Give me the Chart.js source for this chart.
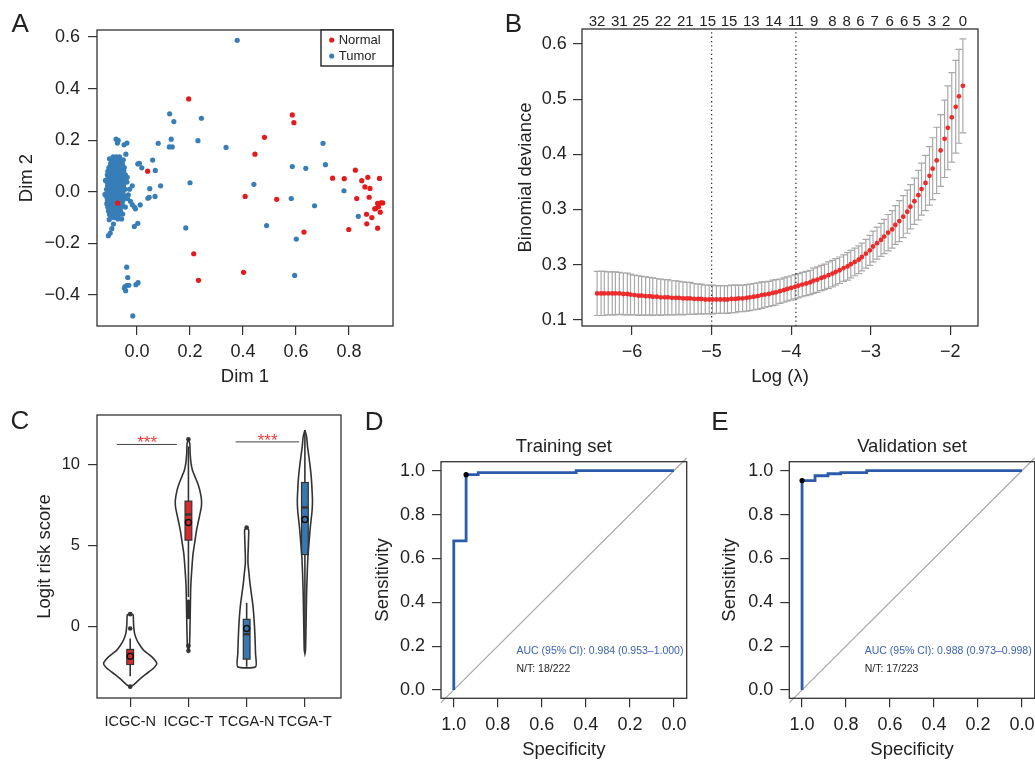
<!DOCTYPE html>
<html>
<head>
<meta charset="utf-8">
<script src="https://cdn.jsdelivr.net/npm/chart.js@4.4.1/dist/chart.umd.min.js"></script>
<style>
  body { margin: 0; background: #fff; }
  #fig { position: relative; width: 1035px; height: 762px; overflow: hidden;
         font-family: "Liberation Sans", Arial, Helvetica, sans-serif; color: #222; }
  #fig canvas { position: absolute; }
  .tag { position: absolute; font-size: 26px; line-height: 26px; color: #222; }
</style>
</head>
<body>
<div id="fig">
  <canvas id="chartA" width="400" height="392" style="left:0px;top:0px;width:400px;height:392px"></canvas>
  <canvas id="chartB" width="535" height="392" style="left:500px;top:0px;width:535px;height:392px"></canvas>
  <canvas id="chartC" width="360" height="367" style="left:0px;top:395px;width:360px;height:367px"></canvas>
  <canvas id="chartD" width="345" height="367" style="left:355px;top:395px;width:345px;height:367px"></canvas>
  <canvas id="chartE" width="345" height="367" style="left:703px;top:395px;width:345px;height:367px"></canvas>
  <div class="tag" style="left:11.5px;top:9.9px">A</div>
  <div class="tag" style="left:504.7px;top:9.9px">B</div>
  <div class="tag" style="left:10.5px;top:406.6px">C</div>
  <div class="tag" style="left:364.7px;top:408.3px">D</div>
  <div class="tag" style="left:711.3px;top:408.3px">E</div>
</div>
<script>
// ---------- Panel A: MDS plot (Dim 1, Dim 2) ----------
const normalPoints = [
  [0.195, 0.360], [0.586, 0.298], [0.592, 0.268], [0.481, 0.211], [0.445, 0.146],
  [0.040, 0.080], [-0.073, -0.044], [0.408, -0.018], [0.527, -0.029], [0.630, -0.156],
  [0.214, -0.240], [0.232, -0.343], [0.402, -0.312], [0.738, 0.053], [0.782, 0.051],
  [0.824, 0.084], [0.848, 0.043], [0.871, 0.056], [0.860, 0.019], [0.879, 0.013],
  [0.915, 0.052], [0.829, -0.026], [0.876, -0.021], [0.908, -0.045], [0.920, -0.043],
  [0.927, -0.043], [0.911, -0.058], [0.901, -0.065], [0.918, -0.079], [0.897, -0.066],
  [0.866, -0.087], [0.886, -0.100], [0.867, -0.124], [0.799, -0.146], [0.908, -0.141]
];
const tumorPoints = [
  [0.378, 0.587], [0.123, 0.302], [0.243, 0.285], [0.139, 0.272], [0.080, 0.188],
  [0.129, 0.204], [0.122, 0.174], [0.133, 0.174], [0.230, 0.198], [0.336, 0.172],
  [0.702, 0.188], [0.711, 0.105], [0.586, 0.098], [0.637, 0.091], [0.059, 0.123],
  [0.069, 0.083], [0.009, 0.110], [0.003, 0.108], [0.018, 0.093], [0.089, 0.023],
  [0.048, 0.012], [0.046, -0.021], [0.041, -0.025], [0.068, -0.018], [0.200, 0.035],
  [0.441, 0.029], [0.781, 0.004], [0.582, -0.026], [0.670, -0.054], [0.835, -0.095],
  [0.489, -0.131], [0.601, -0.183], [0.595, -0.324], [0.184, -0.140], [0.012, -0.051],
  [0.003, -0.122], [-0.010, -0.134],
  [-0.018, -0.050], [-0.010, -0.059], [-0.006, -0.066], [-0.044, -0.059], [-0.025, -0.037],
  [-0.038, 0.038], [-0.018, 0.023], [-0.028, 0.010], [-0.033, -0.012], [-0.054, -0.086],
  [-0.072, -0.105], [-0.058, -0.105], [-0.105, -0.108], [-0.089, -0.125], [-0.095, -0.143],
  [-0.101, -0.160], [-0.108, -0.170], [-0.079, 0.204], [-0.071, 0.199], [-0.074, 0.189],
  [-0.049, 0.182], [-0.038, 0.189], [-0.042, 0.146],
  [-0.039, -0.292], [-0.035, -0.332], [-0.045, -0.367], [-0.039, -0.363], [-0.031, -0.362],
  [-0.048, -0.373], [-0.043, -0.383], [-0.004, -0.360], [0.004, -0.352], [-0.016, -0.481],
  // main cluster
  [-0.090, 0.135], [-0.078, 0.135], [-0.066, 0.135], [-0.104, 0.128], [-0.052, 0.124],
  [-0.097, 0.122], [-0.085, 0.122], [-0.073, 0.122], [-0.061, 0.122],
  [-0.100, 0.108], [-0.088, 0.108], [-0.076, 0.108], [-0.064, 0.108], [-0.055, 0.108],
  [-0.106, 0.094], [-0.094, 0.094], [-0.082, 0.094], [-0.070, 0.094], [-0.058, 0.094], [-0.048, 0.094],
  [-0.110, 0.080], [-0.098, 0.080], [-0.086, 0.080], [-0.074, 0.080], [-0.062, 0.080], [-0.050, 0.080],
  [-0.112, 0.066], [-0.100, 0.066], [-0.088, 0.066], [-0.076, 0.066], [-0.064, 0.066], [-0.052, 0.066], [-0.044, 0.066],
  [-0.110, 0.052], [-0.098, 0.052], [-0.086, 0.052], [-0.074, 0.052], [-0.062, 0.052], [-0.050, 0.052], [-0.037, 0.056],
  [-0.113, 0.038], [-0.101, 0.038], [-0.089, 0.038], [-0.077, 0.038], [-0.065, 0.038], [-0.053, 0.038], [-0.043, 0.038],
  [-0.111, 0.024], [-0.099, 0.024], [-0.087, 0.024], [-0.075, 0.024], [-0.063, 0.024], [-0.051, 0.024], [-0.119, 0.044],
  [-0.115, 0.010], [-0.103, 0.010], [-0.091, 0.010], [-0.079, 0.010], [-0.067, 0.010], [-0.055, 0.010], [-0.045, 0.010],
  [-0.113, -0.004], [-0.101, -0.004], [-0.089, -0.004], [-0.077, -0.004], [-0.065, -0.004], [-0.053, -0.004], [-0.121, -0.010],
  [-0.115, -0.018], [-0.103, -0.018], [-0.091, -0.018], [-0.079, -0.018], [-0.067, -0.018], [-0.055, -0.018], [-0.042, -0.018],
  [-0.112, -0.032], [-0.100, -0.032], [-0.088, -0.032], [-0.076, -0.032], [-0.064, -0.032], [-0.052, -0.032], [-0.036, -0.026],
  [-0.114, -0.046], [-0.102, -0.046], [-0.090, -0.046], [-0.078, -0.046], [-0.066, -0.046], [-0.056, -0.046],
  [-0.110, -0.060], [-0.098, -0.060], [-0.086, -0.060], [-0.074, -0.060], [-0.062, -0.060],
  [-0.108, -0.074], [-0.096, -0.074], [-0.084, -0.074], [-0.072, -0.074], [-0.062, -0.074],
  [-0.104, -0.088], [-0.092, -0.088], [-0.080, -0.088], [-0.068, -0.088],
  [-0.098, -0.100], [-0.086, -0.100]
];
const dimTicksX = [0, 0.2, 0.4, 0.6, 0.8];
const dimTicksY = [-0.4, -0.2, 0, 0.2, 0.4, 0.6];

// ---------- Panel B: cross-validation curve ----------
const logLambda = [
  -6.44, -6.39, -6.35, -6.30, -6.25, -6.21, -6.16, -6.11, -6.06, -6.02,
  -5.97, -5.92, -5.88, -5.83, -5.78, -5.74, -5.69, -5.64, -5.59, -5.55,
  -5.50, -5.45, -5.41, -5.36, -5.31, -5.27, -5.22, -5.17, -5.13, -5.08,
  -5.03, -4.99, -4.94, -4.89, -4.84, -4.80, -4.75, -4.70, -4.66, -4.61,
  -4.56, -4.52, -4.47, -4.42, -4.37, -4.33, -4.28, -4.23, -4.19, -4.14,
  -4.09, -4.05, -4.00, -3.95, -3.91, -3.86, -3.81, -3.76, -3.72, -3.67,
  -3.62, -3.58, -3.53, -3.48, -3.44, -3.39, -3.34, -3.29, -3.25, -3.20,
  -3.15, -3.11, -3.06, -3.01, -2.97, -2.92, -2.87, -2.83, -2.78, -2.73,
  -2.69, -2.64, -2.59, -2.54, -2.50, -2.45, -2.40, -2.36, -2.31, -2.26,
  -2.22, -2.17, -2.12, -2.07, -2.03, -1.98, -1.93, -1.89, -1.84
];
const cvMean = [
  0.148, 0.148, 0.148, 0.148, 0.148, 0.148, 0.148, 0.147, 0.147,
  0.146, 0.145, 0.144, 0.144, 0.143, 0.143,
  0.142, 0.142, 0.141, 0.141, 0.141, 0.140, 0.140,
  0.140, 0.139, 0.139, 0.139, 0.138, 0.138, 0.138,
  0.137, 0.137, 0.137, 0.137, 0.137, 0.137, 0.137,
  0.138, 0.138, 0.139, 0.139, 0.140, 0.141,
  0.142, 0.143, 0.145, 0.146, 0.147, 0.149,
  0.150, 0.152, 0.154, 0.156, 0.158, 0.160,
  0.162, 0.164, 0.166, 0.168, 0.171, 0.173,
  0.176, 0.178, 0.181, 0.184, 0.187, 0.190,
  0.194, 0.197, 0.201, 0.205, 0.209,
  0.214, 0.220, 0.226, 0.233,
  0.239, 0.245, 0.251, 0.258, 0.264, 0.272, 0.279, 0.287, 0.296, 0.305, 0.315, 0.326,
  0.337, 0.348, 0.361, 0.374, 0.389, 0.407, 0.428, 0.448, 0.467, 0.486, 0.505, 0.524
];
const cvSd = [
  0.040, 0.040, 0.040, 0.039, 0.039, 0.039, 0.038, 0.038, 0.038,
  0.037, 0.036, 0.036, 0.035, 0.035, 0.034,
  0.034, 0.033, 0.033, 0.032, 0.032, 0.031, 0.031,
  0.030, 0.030, 0.029, 0.029, 0.028, 0.027, 0.027,
  0.026, 0.026, 0.026, 0.025, 0.025, 0.025, 0.025,
  0.025, 0.025, 0.024, 0.024, 0.024, 0.024,
  0.024, 0.024, 0.024, 0.023, 0.023, 0.023,
  0.023, 0.022, 0.022, 0.022, 0.022, 0.022,
  0.022, 0.022, 0.022, 0.022, 0.023, 0.023,
  0.023, 0.023, 0.024, 0.024, 0.024, 0.024,
  0.024, 0.025, 0.025, 0.025, 0.025,
  0.025, 0.026, 0.027, 0.028,
  0.029, 0.030, 0.031, 0.033, 0.034, 0.035, 0.037, 0.038, 0.039, 0.040, 0.042, 0.045,
  0.047, 0.050, 0.053, 0.056, 0.060, 0.065, 0.070, 0.076, 0.081, 0.084, 0.085, 0.085
];
const nzeroPos = [-6.44, -6.16, -5.89, -5.61, -5.33, -5.05, -4.78, -4.50, -4.22, -3.94,
                  -3.71, -3.48, -3.30, -3.13, -2.95, -2.76, -2.58, -2.42, -2.23, -2.05, -1.84];
const nzeroLabels = ['32', '31', '25', '22', '21', '15', '15', '13', '14', '11',
                     '9', '8', '8', '6', '7', '6', '6', '5', '3', '2', '0'];
const lambdaMinLog = -5.0;
const lambda1seLog = -3.94;
const lambdaTicks = [-6, -5, -4, -3, -2];
const devTicks = [0.1, 0.2, 0.3, 0.4, 0.5, 0.6];
const devTickLabels = ['0.1', '0.3', '0.3', '0.4', '0.5', '0.6'];
const devRange = [0.089, 0.627];

// ---------- Panel C: violin + box plots ----------
const groupNames = ['ICGC-N', 'ICGC-T', 'TCGA-N', 'TCGA-T'];
const icgcN_y = [0.78, 0.70, 0.40, 0.0, -0.43, -0.86, -1.20, -1.48, -1.90, -2.30, -2.60, -3.00, -3.44, -3.65, -3.76];
const icgcN_w = [0, 0.05, 0.055, 0.06, 0.074, 0.114, 0.17, 0.229, 0.372, 0.457, 0.40, 0.257, 0.114, 0.05, 0];
const icgcT_y = [11.54, 11.28, 10.66, 10.04, 9.63, 9.22, 8.81, 8.40, 7.78, 7.37, 6.96, 6.54, 5.93, 5.31, 4.49, 3.46, 2.43, 1.40, 0.37, -0.66, -1.28, -1.52];
const icgcT_w = [0, 0.023, 0.029, 0.046, 0.069, 0.114, 0.16, 0.195, 0.225, 0.222, 0.2, 0.175, 0.14, 0.114, 0.08, 0.057, 0.04, 0.034, 0.029, 0.023, 0.017, 0];
const tcgaN_y = [6.09, 5.95, 5.6, 5.0, 4.4, 3.87, 3.26, 2.64, 2.02, 1.40, 0.78, -0.04, -0.86, -1.69, -2.51];
const tcgaN_w = [0, 0.034, 0.034, 0.029, 0.023, 0.023, 0.04, 0.057, 0.08, 0.103, 0.12, 0.135, 0.145, 0.152, 0.155];
const tcgaT_y = [12.1, 11.7, 11.07, 10.45, 9.83, 9.22, 8.60, 7.78, 7.16, 6.54, 5.93, 5.10, 4.28, 3.26, 2.02, 0.78, -0.45, -1.48, -1.69];
const tcgaT_w = [0, 0.029, 0.046, 0.069, 0.091, 0.109, 0.12, 0.13, 0.124, 0.106, 0.088, 0.07, 0.052, 0.04, 0.029, 0.023, 0.017, 0.011, 0];
const boxQ1 = [-2.37, 5.31, -2.04, 4.42];
const boxMedian = [-1.90, 6.90, -0.50, 7.33];
const boxQ3 = [-1.44, 7.72, 0.42, 8.87];
const whiskerLow = [-3.09, 1.80, -2.51, -1.69];
const whiskerHigh = [-0.76, 11.10, 1.44, 12.10];
const groupMean = [-1.86, 6.40, -0.14, 6.58];
const outliers = [[0.74, -0.15, -3.74], [11.54, 1.50, 1.30, 1.09, 0.88, 0.68, 0.57, -1.21, -1.52], [6.09], []];
const sigFrom = [0.77, 2.81];
const sigTo = [1.80, 3.90];
const sigY = [11.22, 11.38];
const starX = [1.29, 3.36];
const starY = [11.6, 11.73];
const scoreTicks = [0, 5, 10];

// ---------- Panels D, E: ROC curves ----------
const trainSpec = [1, 1, 0.944, 0.944, 0.889, 0.889, 0.444, 0.444, 0];
const trainSens = [0, 0.68, 0.68, 0.982, 0.982, 0.991, 0.991, 1, 1];
const trainCut = [0.944, 0.982];
const validSpec = [1, 1, 0.941, 0.941, 0.882, 0.882, 0.824, 0.824, 0.706, 0.706, 0];
const validSens = [0, 0.955, 0.955, 0.977, 0.977, 0.986, 0.986, 0.991, 0.991, 1, 1];
const validCut = [1.0, 0.955];
const chanceSpec = [1.058, -0.058];
const chanceSens = [-0.058, 1.058];
const rocTicks = [1, 0.8, 0.6, 0.4, 0.2, 0];

const FONT = '"Liberation Sans", Arial, Helvetica, sans-serif';
Chart.defaults.font.family = FONT;
Chart.defaults.color = '#222';

const fmt1 = v => (v < 0 ? '\u2212' : '') + Math.abs(v).toFixed(1);
const fmt0 = v => (v < 0 ? '\u2212' : '') + Math.abs(v).toFixed(0);

// linear axis with fixed ticks, R-like outside tick marks and fixed box size
function linAxis(o) {
  return {
    type: 'linear',
    position: o.position,
    min: o.min,
    max: o.max,
    reverse: !!o.reverse,
    grid: { drawOnChartArea: false, drawTicks: true, tickLength: 9, color: '#333', lineWidth: 1.2 },
    border: { display: false },
    ticks: {
      autoSkip: false, maxRotation: 0, minRotation: 0,
      padding: o.pad, color: '#222',
      font: { size: o.fontSize || 18, lineHeight: 1.2 },
      callback: o.format
    },
    title: { display: !!o.title, text: o.title || '', color: '#222', font: { size: 18.5, lineHeight: 1.2 }, padding: 0 },
    afterBuildTicks: s => { s.ticks = o.ticks.map(v => ({ value: v })); },
    afterFit: s => { if (s.isHorizontal()) s.height = o.size; else s.width = o.size; }
  };
}

// box round the plot region
const framePlugin = {
  id: 'frame',
  afterDraw(chart) {
    const a = chart.chartArea, ctx = chart.ctx;
    ctx.save();
    ctx.strokeStyle = '#333';
    ctx.lineWidth = 1.3;
    ctx.strokeRect(a.left, a.top, a.right - a.left, a.bottom - a.top);
    ctx.restore();
  }
};
Chart.register(framePlugin);

// text placed at data coordinates
const textMarks = {
  id: 'textMarks',
  afterDatasetsDraw(chart, args, opts) {
    const ctx = chart.ctx, x = chart.scales.x, y = chart.scales.y;
    ctx.save();
    (opts.items || []).forEach(t => {
      ctx.font = t.font;
      ctx.fillStyle = t.color;
      ctx.textAlign = t.align || 'left';
      ctx.textBaseline = t.baseline || 'middle';
      ctx.fillText(t.text, x.getPixelForValue(t.x), y.getPixelForValue(t.y) + (t.dy || 0));
    });
    ctx.restore();
  }
};

const toXY = pts => pts.map(p => ({ x: p[0], y: p[1] }));
const common = { responsive: false, animation: false, devicePixelRatio: 1 };

// ---------- A ----------
const legendA = {
  id: 'legendA',
  afterDraw(chart) {
    const a = chart.chartArea, ctx = chart.ctx;
    const w = 72, h = 36, x0 = a.right - w, y0 = a.top;
    ctx.save();
    ctx.fillStyle = '#fff';
    ctx.fillRect(x0, y0, w, h);
    ctx.strokeStyle = '#222';
    ctx.lineWidth = 1.4;
    ctx.strokeRect(x0, y0, w, h);
    ctx.font = '13px ' + FONT;
    ctx.textBaseline = 'middle';
    chart.data.datasets.forEach((ds, i) => {
      const yy = y0 + 10 + i * 16;
      ctx.fillStyle = ds.backgroundColor;
      ctx.beginPath();
      ctx.arc(x0 + 10.7, yy, 2.6, 0, Math.PI * 2);
      ctx.fill();
      ctx.fillStyle = '#222';
      ctx.fillText(ds.label, x0 + 17.7, yy + 0.5);
    });
    ctx.restore();
  }
};

new Chart(document.getElementById('chartA'), {
  type: 'scatter',
  data: {
    datasets: [
      { label: 'Normal', data: toXY(normalPoints), backgroundColor: '#E41A1C', pointRadius: 2.6, borderWidth: 0 },
      { label: 'Tumor', data: toXY(tumorPoints), backgroundColor: '#377EB8', pointRadius: 2.6, borderWidth: 0 }
    ]
  },
  options: Object.assign({}, common, {
    layout: { padding: { left: 15.9, top: 30, right: 7, bottom: 3.9 } },
    plugins: { legend: { display: false }, tooltip: { enabled: false } },
    scales: {
      x: linAxis({ position: 'bottom', min: -0.151, max: 0.966, ticks: dimTicksX, format: fmt1, pad: 6.2, size: 62.1, title: 'Dim 1' }),
      y: linAxis({ position: 'left', min: -0.52, max: 0.627, ticks: dimTicksY, format: fmt1, pad: 8, size: 81.1, title: 'Dim 2' })
    }
  }),
  plugins: [legendA]
});

// ---------- B ----------
const errorBars = {
  id: 'errorBars',
  beforeDatasetsDraw(chart) {
    const ctx = chart.ctx, x = chart.scales.x, y = chart.scales.y;
    ctx.save();
    ctx.strokeStyle = '#A9A9A9';
    ctx.lineWidth = 1.2;
    logLambda.forEach((l, i) => {
      const px = x.getPixelForValue(l);
      const hi = y.getPixelForValue(cvMean[i] + cvSd[i]);
      const lo = y.getPixelForValue(cvMean[i] - cvSd[i]);
      ctx.beginPath();
      ctx.moveTo(px, hi); ctx.lineTo(px, lo);
      ctx.moveTo(px - 3.4, hi); ctx.lineTo(px + 3.4, hi);
      ctx.moveTo(px - 3.4, lo); ctx.lineTo(px + 3.4, lo);
      ctx.stroke();
    });
    ctx.restore();
  }
};

function vline(xv) {
  return {
    data: [{ x: xv, y: devRange[0] }, { x: xv, y: devRange[1] }],
    showLine: true, borderColor: '#333', borderWidth: 1.3, borderDash: [1.3, 3], pointRadius: 0
  };
}

new Chart(document.getElementById('chartB'), {
  type: 'scatter',
  data: {
    datasets: [
      { data: logLambda.map((l, i) => ({ x: l, y: cvMean[i] })), backgroundColor: '#EE2B2B', pointRadius: 2.4, borderWidth: 0 },
      vline(lambdaMinLog),
      vline(lambda1seLog)
    ]
  },
  options: Object.assign({}, common, {
    layout: { padding: { left: 14.9, top: 0, right: 57, bottom: 3.9 } },
    plugins: { legend: { display: false }, tooltip: { enabled: false } },
    scales: {
      x: linAxis({ position: 'bottom', min: -6.63, max: -1.65, ticks: lambdaTicks, format: fmt0, pad: 6, size: 62.1, title: 'Log (\u03bb)' }),
      y: linAxis({ position: 'left', min: devRange[0], max: devRange[1], ticks: devTicks, format: (v, i) => devTickLabels[i], pad: 6.3, size: 67.1, title: 'Binomial deviance' }),
      xTop: {
        type: 'linear', position: 'top', min: -6.63, max: -1.65,
        grid: { display: false, drawTicks: false }, border: { display: false },
        ticks: { autoSkip: false, maxRotation: 0, minRotation: 0, padding: 0, color: '#222',
                 font: { size: 15, lineHeight: 1 }, callback: (v, i) => nzeroLabels[i] },
        afterBuildTicks: s => { s.ticks = nzeroPos.map(v => ({ value: v })); },
        afterFit: s => { s.height = 29; }
      }
    }
  }),
  plugins: [errorBars]
});

// ---------- C ----------
const boxFill = ['#D92B2E', '#D92B2E', '#3877B0', '#3877B0'];
const violinY = [icgcN_y, icgcT_y, tcgaN_y, tcgaT_y];
const violinW = [icgcN_w, icgcT_w, tcgaN_w, tcgaT_w];

function violinPath(pos, ys, ws) {
  const right = ys.map((y, k) => ({ x: pos + ws[k], y: y }));
  const left = ys.map((y, k) => ({ x: pos - ws[k], y: y })).reverse();
  return right.concat(left, [right[0]]);
}

const boxPlots = {
  id: 'boxPlots',
  beforeDatasetsDraw(chart) {
    const ctx = chart.ctx, x = chart.scales.x, y = chart.scales.y;
    ctx.save();
    groupNames.forEach((g, i) => {
      const px = x.getPixelForValue(i + 1);
      const half = x.getPixelForValue(i + 1.058) - px;
      ctx.strokeStyle = '#333';
      ctx.lineWidth = 1.6;
      ctx.beginPath();
      ctx.moveTo(px, y.getPixelForValue(whiskerLow[i]));
      ctx.lineTo(px, y.getPixelForValue(whiskerHigh[i]));
      ctx.stroke();
      const top = y.getPixelForValue(boxQ3[i]), bot = y.getPixelForValue(boxQ1[i]);
      ctx.fillStyle = boxFill[i];
      ctx.fillRect(px - half, top, 2 * half, bot - top);
      ctx.lineWidth = 1.2;
      ctx.strokeRect(px - half, top, 2 * half, bot - top);
      const my = y.getPixelForValue(boxMedian[i]);
      ctx.lineWidth = 2.4;
      ctx.beginPath();
      ctx.moveTo(px - half, my); ctx.lineTo(px + half, my);
      ctx.stroke();
    });
    ctx.restore();
  }
};

const outlierPts = [];
outliers.forEach((list, i) => list.forEach(v => outlierPts.push({ x: i + 1, y: v })));

const cDatasets = [
  { data: groupMean.map((m, i) => ({ x: i + 1, y: m })), pointRadius: 3, backgroundColor: boxFill,
    borderColor: '#111', borderWidth: 1.5 },
  { data: outlierPts, pointRadius: 2.3, backgroundColor: '#333', borderWidth: 0 }
];
violinY.forEach((ys, i) => {
  cDatasets.push({ data: violinPath(i + 1, ys, violinW[i]), showLine: true, fill: false, tension: 0.2,
                   borderColor: '#333', borderWidth: 1.6, pointRadius: 0 });
});
sigFrom.forEach((f, k) => {
  cDatasets.push({ data: [{ x: f, y: sigY[k] }, { x: sigTo[k], y: sigY[k] }], showLine: true,
                   borderColor: '#444', borderWidth: 1, pointRadius: 0 });
});

new Chart(document.getElementById('chartC'), {
  type: 'scatter',
  data: { datasets: cDatasets },
  options: Object.assign({}, common, {
    layout: { padding: { left: 33.9, top: 20, right: 19, bottom: 0 } },
    plugins: {
      legend: { display: false }, tooltip: { enabled: false },
      textMarks: { items: starX.map((sx, k) => ({ x: sx, y: starY[k], text: '***', color: '#F23B3B',
                   font: '17px ' + FONT, align: 'center', baseline: 'alphabetic', dy: 9.7 })) }
    },
    scales: {
      x: linAxis({ position: 'bottom', min: 0.43, max: 4.62, ticks: [1, 2, 3, 4], format: (v, i) => groupNames[i], pad: 6.1, size: 64, fontSize: 14.5 }),
      y: linAxis({ position: 'left', min: -4.44, max: 13.04, ticks: scoreTicks, format: fmt0, pad: 8, size: 63.1, fontSize: 16.5, title: 'Logit risk score' })
    }
  }),
  plugins: [boxPlots, textMarks]
});

// ---------- D, E ----------
function rocChart(id, title, spec, sens, cut, aucText, ntText, padLeft, yWidth) {
  new Chart(document.getElementById(id), {
    type: 'scatter',
    data: {
      datasets: [
        { data: [{ x: cut[0], y: cut[1] }], pointRadius: 2.6, backgroundColor: '#000', borderWidth: 0 },
        { data: spec.map((s, i) => ({ x: s, y: sens[i] })), showLine: true, borderColor: '#2C5BAA',
          borderWidth: 2.8, pointRadius: 0, borderJoinStyle: 'miter' },
        { data: chanceSpec.map((s, i) => ({ x: s, y: chanceSens[i] })), showLine: true, borderColor: '#A8A8A8',
          borderWidth: 1.2, pointRadius: 0, clip: false }
      ]
    },
    options: Object.assign({}, common, {
      layout: { padding: { left: padLeft, top: 0, right: 13.3, bottom: 0.9 } },
      plugins: {
        legend: { display: false }, tooltip: { enabled: false },
        textMarks: { items: [
          { x: 0.715, y: 0.179, text: aucText, color: '#3A63B4', font: '10.5px ' + FONT },
          { x: 0.715, y: 0.094, text: ntText, color: '#222', font: '10.5px ' + FONT }
        ] }
      },
      scales: {
        x: linAxis({ position: 'bottom', min: -0.058, max: 1.058, reverse: true, ticks: rocTicks, format: fmt1, pad: 6.9, size: 62.8, title: 'Specificity' }),
        y: linAxis({ position: 'left', min: -0.038, max: 1.041, ticks: rocTicks, format: fmt1, pad: 7, size: yWidth, title: 'Sensitivity' }),
        xt: {
          type: 'linear', position: 'top', min: -0.058, max: 1.058, reverse: true,
          grid: { display: false, drawTicks: false }, border: { display: false },
          ticks: { display: false },
          title: { display: true, text: title, color: '#222', font: { size: 18.5, lineHeight: 1.2 }, padding: { top: 40.6, bottom: 0 } },
          afterFit: s => { s.height = 66.7; }
        }
      }
    }),
    plugins: [textMarks]
  });
}

rocChart('chartD', 'Training set', trainSpec, trainSens, trainCut,
         'AUC (95% CI): 0.984 (0.953\u20131.000)', 'N/T: 18/222', 16.6, 69.4);
rocChart('chartE', 'Validation set', validSpec, validSens, validCut,
         'AUC (95% CI): 0.988 (0.973\u20130.998)', 'N/T: 17/223', 15.9, 70.4);
</script>
</body>
</html>
